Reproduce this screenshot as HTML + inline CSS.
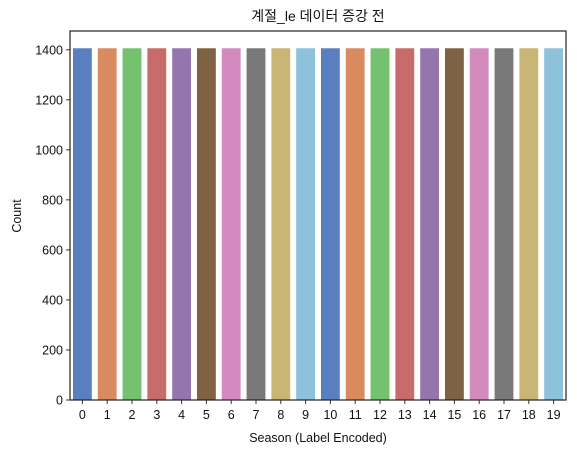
<!DOCTYPE html>
<html><head><meta charset="utf-8"><style>
body{margin:0;background:#fff;}
svg text{font-family:"Liberation Sans","Noto Sans CJK KR",sans-serif;fill:#111;}
</style></head><body>
<svg id="chart" width="577" height="455">
<text x="318" y="21" font-size="14" text-anchor="middle">계절_le 데이터 증강 전</text>
<g id="bars"></g><g id="axes"></g>
<text x="318" y="442" font-size="12.5" text-anchor="middle">Season (Label Encoded)</text>
<text transform="translate(21,216) rotate(-90)" font-size="12.5" text-anchor="middle">Count</text>
</svg>
<script>
const categories=["0","1","2","3","4","5","6","7","8","9","10","11","12","13","14","15","16","17","18","19"];
const counts=[1408,1408,1408,1408,1408,1408,1408,1408,1408,1408,1408,1408,1408,1408,1408,1408,1408,1408,1408,1408];
const yTicks=[0,200,400,600,800,1000,1200,1400];
const colors=["#5a7fc1","#d98b5f","#74c170","#c86b6b","#9575ae","#7f6144","#d38bbf","#797979","#c9b676","#8ec2da"];
const L=70,R=566,T=31,B=400,yMax=1475;
const NS="http://www.w3.org/2000/svg";
const y=v=>B-(v/yMax)*(B-T);
const bw=(R-L)/categories.length;
const x=i=>L+bw*i;
const bars=document.getElementById('bars'),axes=document.getElementById('axes');
function mk(tag,at,p){const e=document.createElementNS(NS,tag);for(const k in at)e.setAttribute(k,at[k]);p.appendChild(e);return e;}
counts.forEach((v,i)=>{
 const r=mk('rect',{x:x(i)+bw*0.1,y:y(v),width:bw*0.8,height:B-y(v),fill:colors[i%10],stroke:'#fff','stroke-width':1},bars);
 
 
 mk('line',{x1:x(i)+bw/2,x2:x(i)+bw/2,y1:B,y2:B+4,stroke:'#333'},axes);
 const lb=mk('text',{x:x(i)+bw/2,y:B+19,'font-size':12.5,'text-anchor':'middle'},axes);
 lb.textContent=categories[i];
 
 
});
yTicks.forEach(v=>{
 mk('line',{x1:L-4,x2:L,y1:y(v),y2:y(v),stroke:'#333'},axes);
 const lb=mk('text',{x:L-7,y:y(v)+4.5,'font-size':12.5,'text-anchor':'end'},axes);
 lb.textContent=v;
 
 
});
mk('rect',{x:L,y:T,width:R-L,height:B-T,fill:'none',stroke:'#222','stroke-width':1.2},axes);
</script>
</body></html>
